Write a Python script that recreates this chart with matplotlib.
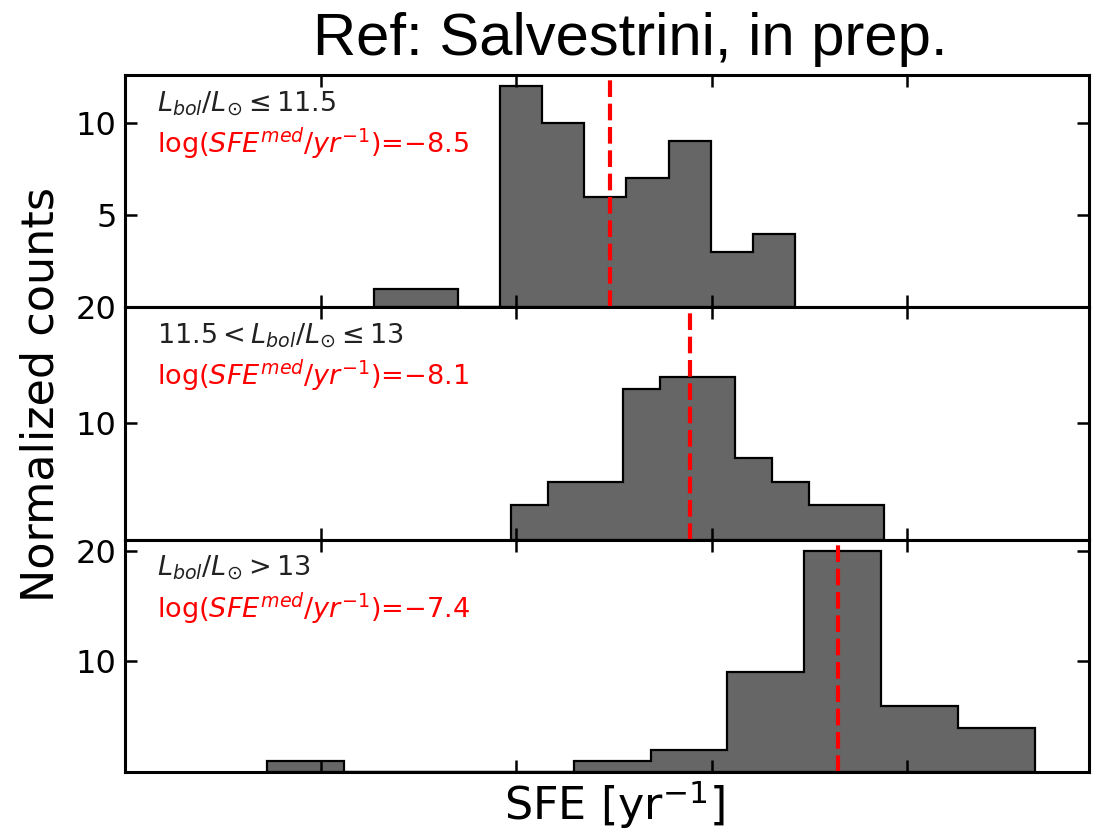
import numpy as np
import matplotlib
matplotlib.use("Agg")
import matplotlib.pyplot as plt

# Histogram data: bin range (log SFE) and counts per luminosity class
lo_bins = [-9.726, -9.027, -10.275]
hi_bins = [-7.575, -7.118, -6.348]
counts_low = [1, 1, 0, 12, 10, 6, 7, 9, 3, 4]
counts_mid = [3, 5, 5, 13, 14, 14, 7, 5, 3, 3]
counts_high = [1, 0, 0, 0, 1, 2, 9, 20, 6, 4]
medians = [-8.52, -8.11, -7.352]
class_labels = [
    r"$L_{bol}/L_{\odot} \leq 11.5$",
    r"$11.5 < L_{bol}/L_{\odot} \leq 13$",
    r"$L_{bol}/L_{\odot} > 13$",
]
yticks = [[5, 10], [10, 20], [10, 20]]
ylims = [None, (0, 20), None]
xticks = [-10, -9, -8, -7]

counts_all = [counts_low, counts_mid, counts_high]

fig = plt.figure(figsize=(11.14, 8.32), dpi=100)
gs = fig.add_gridspec(3, 1, left=125 / 1114, right=1089 / 1114,
                      top=1 - 75 / 832, bottom=1 - 772 / 832, hspace=0)

for i in range(3):
    ax = fig.add_subplot(gs[i])
    counts = np.asarray(counts_all[i], dtype=float)
    edges = np.linspace(lo_bins[i], hi_bins[i], len(counts) + 1)
    ax.hist(edges[:-1], bins=edges, weights=counts, histtype="stepfilled",
            facecolor="#666666", edgecolor="black", linewidth=1.6)
    ax.axvline(medians[i], color="red", linewidth=3, dashes=(4, 1.6))
    ax.set_xlim(-11.0, -6.07)
    if ylims[i] is not None:
        ax.set_ylim(*ylims[i])
    ax.set_xticks(xticks)
    ax.set_xticklabels([])
    ax.set_yticks(yticks[i])
    ax.tick_params(axis="both", which="major", direction="in", top=True,
                   right=True, length=8.5, width=1.8, labelsize=23, pad=6)
    for sp in ax.spines.values():
        sp.set_linewidth(2.2)

    ax.text(0.033, 1 - 37 / 232, class_labels[i], transform=ax.transAxes,
            fontsize=19.5, color="#222222", va="baseline", ha="left")
    med_str = f"{medians[i]:.1f}".replace("-", "\u2212")
    ax.text(0.033, 1 - 78 / 232, r"log($SFE^{med}/yr^{-1}$)=" + med_str,
            transform=ax.transAxes, fontsize=19.5, color="red",
            va="baseline", ha="left")

fig.text(41 / 1114, 1 - 395 / 832, "Normalized counts", rotation=90,
         fontsize=32, ha="center", va="center")
fig.text(615 / 1114, 1 - 820 / 832, r"SFE [yr$^{-1}$]", fontsize=32,
         ha="center", va="baseline")
fig.text(630 / 1114, 1 - 55 / 832, "Ref: Salvestrini, in prep.",
         fontsize=43, family="Liberation Sans", ha="center", va="baseline")

fig.savefig("out.png", dpi=100)
